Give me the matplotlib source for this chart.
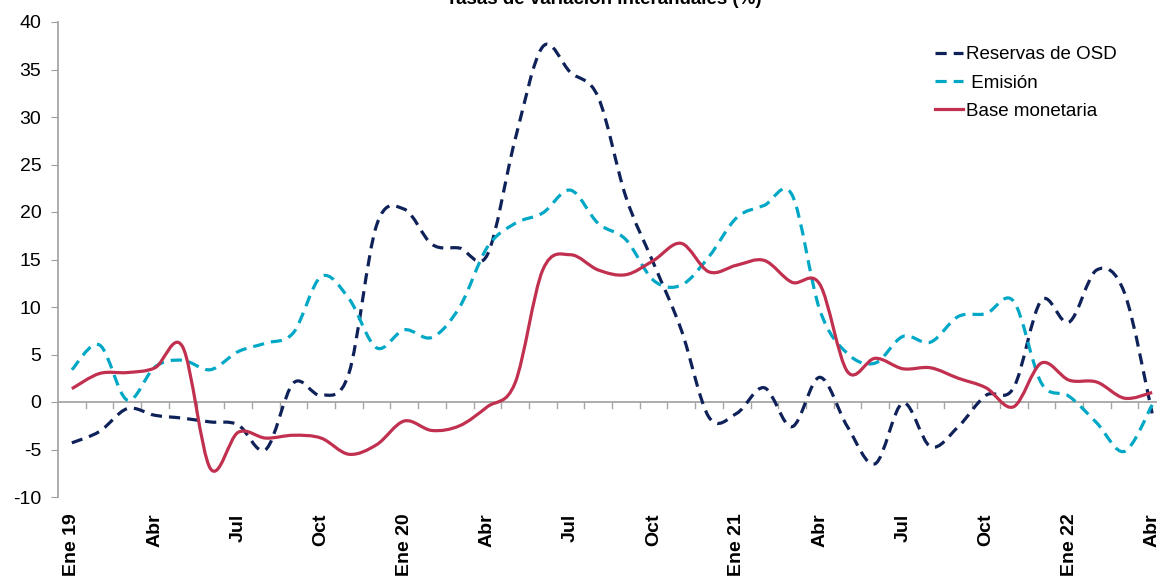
import numpy as np
import matplotlib.pyplot as plt
from matplotlib.path import Path
from matplotlib.patches import PathPatch
from matplotlib.lines import Line2D

plt.rcParams['font.family'] = ['Liberation Sans', 'DejaVu Sans']
plt.rcParams['axes.unicode_minus'] = False

# monthly data, Ene 19 - Abr 22
months = ['Ene 19', 'Feb', 'Mar', 'Abr', 'May', 'Jun', 'Jul', 'Ago', 'Sep', 'Oct', 'Nov', 'Dic',
          'Ene 20', 'Feb', 'Mar', 'Abr', 'May', 'Jun', 'Jul', 'Ago', 'Sep', 'Oct', 'Nov', 'Dic',
          'Ene 21', 'Feb', 'Mar', 'Abr', 'May', 'Jun', 'Jul', 'Ago', 'Sep', 'Oct', 'Nov', 'Dic',
          'Ene 22', 'Feb', 'Mar', 'Abr']

reservas = [-4.3, -3.1, -0.7, -1.4, -1.7, -2.1, -2.4, -5.0, 2.0, 0.7, 3.0, 18.6,
            20.3, 16.6, 16.2, 15.5, 27.6, 37.4, 34.7, 32.1, 21.6, 14.6, 7.6, -1.6,
            -1.2, 1.5, -2.6, 2.6, -2.6, -6.5, -0.1, -4.7, -2.6, 0.7, 1.5, 10.7,
            8.4, 13.9, 11.5, -1.2]

emision = [3.4, 6.0, 0.2, 3.7, 4.4, 3.4, 5.3, 6.2, 7.3, 13.2, 10.9, 5.7,
           7.6, 6.8, 10.0, 16.3, 18.8, 19.9, 22.3, 18.8, 17.1, 12.8, 12.3, 15.3,
           19.4, 20.7, 21.8, 9.7, 5.1, 4.1, 6.9, 6.3, 9.0, 9.3, 10.6, 2.0,
           0.6, -2.2, -5.2, -0.3]

base = [1.4, 3.0, 3.1, 3.6, 5.8, -7.0, -3.2, -3.8, -3.5, -3.8, -5.5, -4.5,
        -2.0, -3.0, -2.5, -0.5, 2.0, 13.9, 15.5, 13.9, 13.4, 14.9, 16.7, 13.7,
        14.4, 14.9, 12.6, 12.4, 3.2, 4.6, 3.5, 3.6, 2.5, 1.5, -0.5, 4.1,
        2.3, 2.1, 0.4, 1.0]

c_res = '#0f2159'
c_emi = '#00a8c6'
c_base = '#c1304f'


def smooth_path(y):
    # excel-like smoothed line: bezier segments through every data point
    x = np.arange(len(y), dtype=float)
    p = np.column_stack([x, np.asarray(y, dtype=float)])
    verts = [p[0]]
    codes = [Path.MOVETO]
    n = len(p)
    for i in range(n - 1):
        p0 = p[i - 1] if i > 0 else p[i]
        p3 = p[i + 2] if i + 2 < n else p[i + 1]
        c1 = p[i] + (p[i + 1] - p0) / 6
        c2 = p[i + 1] - (p3 - p[i]) / 6
        verts += [c1, c2, p[i + 1]]
        codes += [Path.CURVE4] * 3
    return Path(verts, codes)


fig = plt.figure(figsize=(11.57, 5.8), dpi=100)
ax = fig.add_axes([58 / 1157, 1 - 497 / 580, 1108 / 1157, 475 / 580])

series = [
    (reservas, c_res, (0, (3.5, 2.2)), 'Reservas de OSD'),
    (emision, c_emi, (0, (3.5, 2.2)), ' Emisión'),
    (base, c_base, '-', 'Base monetaria'),
]
handles = []
for vals, col, ls, lab in series:
    patch = PathPatch(smooth_path(vals), fill=False, edgecolor=col, lw=2.3,
                      linestyle=ls, capstyle='butt', zorder=3)
    ax.add_patch(patch)
    handles.append(Line2D([], [], color=col, lw=2.3, linestyle=ls, label=lab))

ax.set_xlim(-0.5, len(months) - 0.5)
ax.set_ylim(-10, 40)
ax.set_yticks(np.arange(-10, 41, 5))
ax.tick_params(axis='y', labelsize=14, length=5, color='#a0a0a0', direction='out', pad=7)

# zero line as the category axis
ax.axhline(0, color='#a6a6a6', lw=1.3, zorder=2)
for b in np.arange(0.5, len(months) - 0.5, 1):
    ax.plot([b, b], [0, -0.6], color='#a6a6a6', lw=1, zorder=2)

ax.set_xticks(np.arange(0, len(months), 3))
ax.set_xticklabels([months[i] if i % 12 == 0 else ['Ene', 'Abr', 'Jul', 'Oct'][(i % 12) // 3]
                    for i in range(0, len(months), 3)],
                   rotation=90, fontweight='bold', fontsize=14)
ax.tick_params(axis='x', length=0, pad=12)

for s in ['top', 'right', 'bottom']:
    ax.spines[s].set_visible(False)
ax.spines['left'].set_color('#a6a6a6')
ax.spines['left'].set_linewidth(1.3)

ax.legend(handles=handles, loc='upper left', bbox_to_anchor=(0.776, 0.985), frameon=False,
          fontsize=13.5, handlelength=1.5, handletextpad=0.15, labelspacing=0.6)

fig.text(0.522, 1.0, 'Tasas de variación interanuales (%)', ha='center', va='center',
         fontsize=13.5, fontweight='bold')

fig.savefig('out.png', dpi=100)
